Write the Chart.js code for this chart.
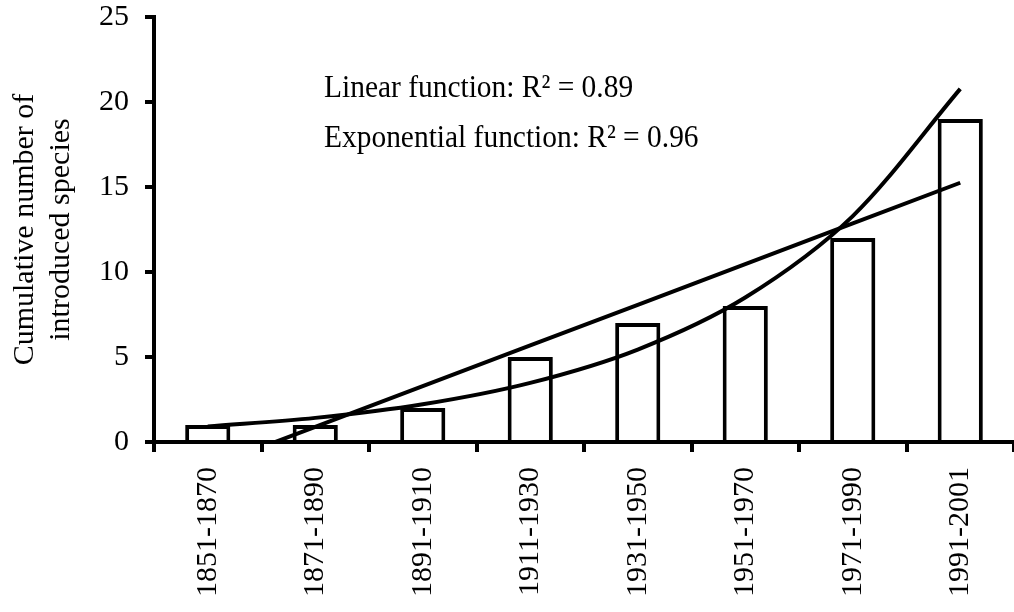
<!DOCTYPE html>
<html>
<head>
<meta charset="utf-8">
<script src="https://cdn.jsdelivr.net/npm/chart.js@4/dist/chart.umd.min.js"></script>
<style>
  html, body { margin: 0; padding: 0; background: #fff; }
  #wrap { width: 1014px; height: 612px; position: relative; }
</style>
</head>
<body>
<div id="wrap"><canvas id="chart"></canvas></div>
<script>
const PERIODS = ["1851-1870", "1871-1890", "1891-1910", "1911-1930", "1931-1950", "1951-1970", "1971-1990", "1991-2001"];
const SPECIES = [1, 1, 2, 5, 7, 8, 12, 19];
// trend lines at each period
const LINEAR_FIT = [-1.5, 0.89, 3.29, 5.68, 8.07, 10.46, 12.86, 15.25];
const EXP_FIT = [0.91, 1.42, 2.22, 3.48, 5.44, 8.5, 13.29, 20.77];
const Y_TITLE = ["Cumulative number of", "introduced species"];
const NOTES = ["Linear function: R² = 0.89", "Exponential function: R² = 0.96"];

const FONT = "'Liberation Serif', 'Times New Roman', serif";

// the two R² notes, slightly condensed like the original text box
const notes = {
  id: "notes",
  afterDraw(chart) {
    const ctx = chart.ctx;
    ctx.save();
    ctx.font = "32px " + FONT;
    ctx.fillStyle = "#000";
    ctx.textBaseline = "alphabetic";
    NOTES.forEach((t, i) => {
      ctx.save();
      ctx.translate(324, 97 + i * 50);
      ctx.scale(0.92, 1);
      ctx.fillText(t, 0, 0);
      ctx.restore();
    });
    ctx.restore();
  },
};

new Chart(document.getElementById("chart"), {
  type: "bar",
  data: {
    labels: PERIODS,
    datasets: [
      {
        type: "line",
        data: LINEAR_FIT,
        borderColor: "#000",
        borderWidth: 4,
        pointRadius: 0,
        fill: false,
        order: 1,
      },
      {
        type: "line",
        data: EXP_FIT,
        borderColor: "#000",
        borderWidth: 4,
        pointRadius: 0,
        fill: false,
        cubicInterpolationMode: "monotone",
        order: 1,
      },
      {
        data: SPECIES,
        backgroundColor: "#fff",
        borderColor: "#000",
        borderWidth: 4,
        categoryPercentage: 1,
        barPercentage: 0.42,
        order: 2,
      },
    ],
  },
  options: {
    responsive: true,
    maintainAspectRatio: false,
    animation: false,
    devicePixelRatio: 1,
    layout: { padding: { left: 2, right: 0, top: 0, bottom: 0 } },
    plugins: { legend: { display: false }, tooltip: { enabled: false } },
    scales: {
      x: {
        grid: {
          offset: true,
          drawOnChartArea: false,
          tickLength: 10,
          lineWidth: 4,
          color: "#000",
        },
        border: { display: true, width: 4, color: "#000" },
        ticks: {
          color: "#000",
          font: { family: FONT, size: 30 },
          minRotation: 90,
          maxRotation: 90,
          padding: 15,
        },
      },
      y: {
        min: 0,
        max: 25,
        afterFit(scale) {
          scale.paddingTop = 17;
        },
        grid: {
          drawOnChartArea: false,
          tickLength: 9,
          lineWidth: 4,
          color: "#000",
        },
        border: { display: true, width: 4, color: "#000" },
        ticks: {
          stepSize: 5,
          color: "#000",
          font: { family: FONT, size: 30 },
          padding: 16,
        },
        title: {
          display: true,
          text: Y_TITLE,
          color: "#000",
          font: { family: FONT, size: 30 },
          padding: { top: 5, bottom: 4 },
        },
      },
    },
  },
  plugins: [notes],
});
</script>
</body>
</html>
